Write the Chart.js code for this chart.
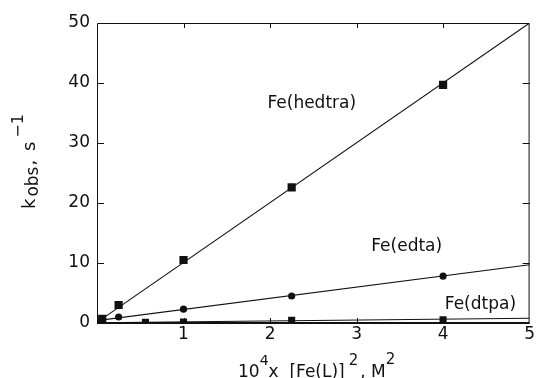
<!DOCTYPE html>
<html>
<head>
<meta charset="utf-8">
<script src="https://cdn.jsdelivr.net/npm/chart.js@4.4.0/dist/chart.umd.min.js"></script>
<style>
    html, body { margin: 0; padding: 0; background: #fff; }
    #wrap { width: 536px; height: 378px; position: relative; }
</style>
</head>
<body>
<div id="wrap"><canvas id="kobs"></canvas></div>
<script>
// --- Data: measured rate constants vs. [Fe(L)]^2 (x in units of 1e-4 M^2) ---
const hedtraX = [0.06, 0.25, 1.0, 2.25, 4.0];
const hedtraY = [0.7, 3.0, 10.5, 22.6, 39.7];
const edtaX = [0.06, 0.25, 1.0, 2.25, 4.0];
const edtaY = [0.5, 1.0, 2.3, 4.5, 7.8];
const dtpaX = [0.56, 1.0, 2.25, 4.0];
const dtpaY = [0.1, 0.15, 0.45, 0.55];

// least-squares lines, endpoints at x = 0 and x = 5
const fitX = [0, 5];
const hedtraFitY = [0.1, 50];
const edtaFitY = [0.4, 9.7];
const dtpaFitY = [0.05, 0.8];

const xTicks = [0, 1, 2, 3, 4, 5];
const yTicks = [0, 10, 20, 30, 40, 50];

const INK = '#111';
const FONT = '"DejaVu Sans", sans-serif';

// label anchors in data units (left edge, baseline)
const seriesLabels = [
    { text: 'Fe(hedtra)', x: 1.97, y: 35.8 },
    { text: 'Fe(edta)', x: 3.17, y: 12.0 },
    { text: 'Fe(dtpa)', x: 4.02, y: 2.3 }
];

const toPoints = (xs, ys) => xs.map((x, i) => ({ x: x, y: ys[i] }));

function markerSet(xs, ys, style, radius) {
    return {
        data: toPoints(xs, ys),
        showLine: false,
        pointStyle: style,
        pointRadius: radius,
        pointBackgroundColor: INK,
        pointBorderColor: INK,
        pointBorderWidth: 0
    };
}

function fitSet(ys) {
    return {
        data: toPoints(fitX, ys),
        showLine: true,
        borderColor: INK,
        borderWidth: 1.1,
        pointRadius: 0
    };
}

// Draws text runs with their own size and vertical offset (for sub/superscripts)
function drawRuns(ctx, runs, x, y) {
    let cx = x;
    runs.forEach(run => {
        ctx.font = `${run.size}px ${FONT}`;
        ctx.fillText(run.text, cx, y + (run.dy || 0));
        cx += ctx.measureText(run.text).width + (run.gap || 0);
    });
}

const framePlugin = {
    id: 'frame',
    afterDatasetsDraw(chart) {
        const { ctx, chartArea: a } = chart;
        const xs = chart.scales.x;
        const ys = chart.scales.y;
        ctx.save();
        ctx.strokeStyle = INK;
        ctx.fillStyle = INK;

        // box
        ctx.lineWidth = 1;
        ctx.beginPath();
        ctx.moveTo(a.left + 0.5, a.bottom);
        ctx.lineTo(a.left + 0.5, a.top + 0.5);
        ctx.lineTo(a.right - 0.5, a.top + 0.5);
        ctx.lineTo(a.right - 0.5, a.bottom);
        ctx.stroke();
        ctx.lineWidth = 2;
        ctx.beginPath();
        ctx.moveTo(a.left, a.bottom);
        ctx.lineTo(a.right, a.bottom);
        ctx.stroke();

        // inward tick marks on all four sides
        ctx.lineWidth = 1;
        ctx.beginPath();
        yTicks.slice(1, -1).forEach(v => {
            const py = Math.round(ys.getPixelForValue(v)) + 0.5;
            ctx.moveTo(a.left, py); ctx.lineTo(a.left + 7, py);
            ctx.moveTo(a.right, py); ctx.lineTo(a.right - 7, py);
        });
        xTicks.slice(1, -1).forEach(v => {
            const px = Math.round(xs.getPixelForValue(v)) + 0.5;
            ctx.moveTo(px, a.top); ctx.lineTo(px, a.top + 5);
            ctx.moveTo(px, a.bottom); ctx.lineTo(px, a.bottom - 5);
        });
        ctx.stroke();

        // series labels
        ctx.textBaseline = 'alphabetic';
        ctx.textAlign = 'left';
        ctx.font = `17px ${FONT}`;
        seriesLabels.forEach(l => {
            ctx.fillText(l.text, xs.getPixelForValue(l.x), ys.getPixelForValue(l.y));
        });

        // x-axis title: 10^4 x [Fe(L)]^2, M^2
        drawRuns(ctx, [
            { text: '10', size: 17 },
            { text: '4', size: 14, dy: -12 },
            { text: 'x  [Fe(L)]', size: 17, gap: 4 },
            { text: '2', size: 15, dy: -12, gap: 2 },
            { text: ', M', size: 17 },
            { text: '2', size: 15, dy: -13 }
        ], 238, 377);

        // y-axis title: k_obs, s^-1
        ctx.translate(35, 209);
        ctx.rotate(-Math.PI / 2);
        drawRuns(ctx, [
            { text: 'k', size: 18, gap: 2 },
            { text: 'obs', size: 17, dy: 3, gap: 1 },
            { text: ', ', size: 18, gap: 3 },
            { text: 's', size: 18, gap: 4 },
            { text: '\u22121', size: 16, dy: -12 }
        ], 0, 0);
        ctx.restore();
    }
};

new Chart(document.getElementById('kobs'), {
    type: 'scatter',
    data: {
        datasets: [
            fitSet(hedtraFitY),
            fitSet(edtaFitY),
            fitSet(dtpaFitY),
            markerSet(hedtraX, hedtraY, 'rect', 5.8),
            markerSet(edtaX, edtaY, 'circle', 3.6),
            markerSet(dtpaX, dtpaY, 'rect', 5.0)
        ]
    },
    options: {
        responsive: true,
        maintainAspectRatio: false,
        animation: false,
        layout: { padding: { left: 0, top: 23, right: 1, bottom: 0 } },
        plugins: {
            legend: { display: false },
            tooltip: { enabled: false }
        },
        scales: {
            x: {
                type: 'linear',
                min: 0,
                max: 5,
                afterFit: s => { s.height = 55; },
                afterBuildTicks: s => { s.ticks = xTicks.map(v => ({ value: v })); },
                grid: { display: false, drawTicks: false },
                border: { display: false },
                ticks: {
                    color: INK,
                    padding: 1,
                    font: { family: FONT, size: 17 },
                    callback: v => (v === 0 ? '' : String(v))
                }
            },
            y: {
                type: 'linear',
                min: 0,
                max: 50,
                afterFit: s => { s.width = 97; },
                afterBuildTicks: s => { s.ticks = yTicks.map(v => ({ value: v })); },
                grid: { display: false, drawTicks: false },
                border: { display: false },
                ticks: {
                    color: INK,
                    padding: 7,
                    font: { family: FONT, size: 17 }
                }
            }
        }
    },
    plugins: [framePlugin]
});
</script>
</body>
</html>
